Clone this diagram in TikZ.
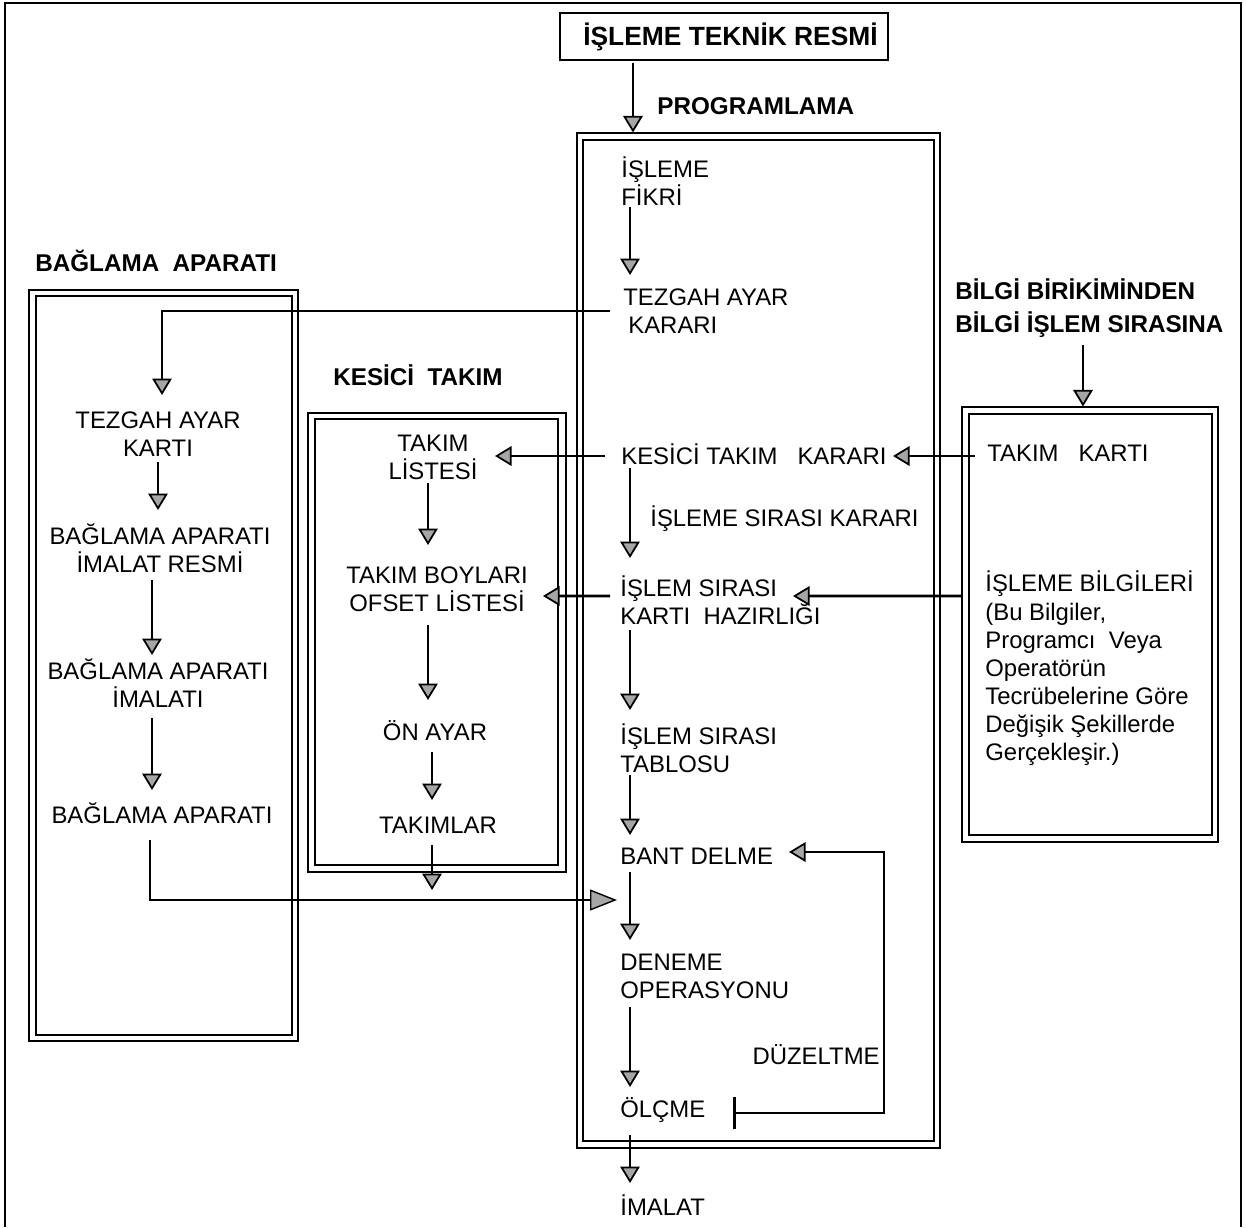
\documentclass[tikz,border=0pt]{standalone}
\usepackage{fontspec}
\setmainfont{Liberation Sans}
\usetikzlibrary{arrows.meta,fit}
\begin{document}
\begin{tikzpicture}[x=0.2mm,y=-0.2mm,
  txt/.style={inner sep=0pt,font=\fontsize{13.6}{16}\selectfont,align=left},
  ctxt/.style={inner sep=0pt,font=\fontsize{13.6}{16}\selectfont,align=center},
  hd/.style={inner sep=0pt,font=\fontsize{13.8}{18.7}\selectfont\bfseries,align=left},
  outerbox/.style={draw,line width=0.6pt,inner sep=0pt},
  innerbox/.style={draw,line width=1.1pt},
  arr/.style={line width=1.6pt,-{Triangle[length=3.3mm,width=3.9mm,fill=gray!70,line width=1pt]}},
  thinarr/.style={line width=0.8pt,-{Triangle[length=5.4mm,width=4.2mm,fill=gray!70,line width=0.8pt]}},
  fbarr/.style={line width=1.6pt,{Bar[width=6.4mm]}-{Triangle[length=3.3mm,width=3.9mm,fill=gray!70,line width=1pt]}}
]
\useasboundingbox (0,0) rectangle (1246,1227);
% outer frame
\draw[line width=0.9pt] (5,1227) -- (5,3) -- (1241,3) -- (1241,1227);

% boxes
\node[outerbox,fit={(577,133) (940,1148)}] (progbox) {};
\draw[innerbox] (583,140) rectangle (934,1141);
\node[outerbox,fit={(29,290) (298,1041)}] (bagbox) {};
\draw[innerbox] (36,296) rectangle (292,1035);
\node[outerbox,fit={(308,413) (566,872)}] (kesbox) {};
\draw[innerbox] (315,419) rectangle (558,865);
\node[outerbox,fit={(962,407) (1218,842)}] (bilgibox) {};
\draw[innerbox] (969,414) rectangle (1212,835);

% title
\node[draw,line width=0.9pt,minimum width=65.6mm,minimum height=9.4mm,inner sep=0pt,
      font=\fontsize{15}{17}\selectfont\bfseries] (title) at (724,36.5) {\hspace{2.6mm}İŞLEME TEKNİK RESMİ};

% headings
\node[hd,anchor=west] (proghead) at (657,106) {PROGRAMLAMA};
\node[hd,anchor=west] (baghead) at (35,261) {BAĞLAMA\ \ APARATI};
\node[hd,anchor=west] (keshead) at (333,375) {KESİCİ\ \ TAKIM};
\node[hd,anchor=west,font=\fontsize{13.8}{18.7pt}\selectfont\bfseries] (bilgihead) at (955,308.5) {BİLGİ BİRİKİMİNDEN\\BİLGİ İŞLEM SIRASINA};

% programming column
\node[txt,anchor=west] (fikri) at (621,181.5) {İŞLEME\\FİKRİ};
\node[txt,anchor=west] (tezkarar) at (623,311) {TEZGAH AYAR\\\hspace{1mm}KARARI};
\node[txt,anchor=west] (keskarar) at (621,454) {KESİCİ TAKIM\ \ \ KARARI};
\node[txt,anchor=west] (sirakarar) at (650,519) {İŞLEME SIRASI KARARI};
\node[txt,anchor=west] (kartihaz) at (620,600) {İŞLEM SIRASI\\KARTI\ \ HAZIRLIĞI};
\node[txt,anchor=west] (tablosu) at (620,748) {İŞLEM SIRASI\\TABLOSU};
\node[txt,anchor=west] (bant) at (620,856) {BANT DELME};
\node[txt,anchor=west] (deneme) at (620,976) {DENEME\\OPERASYONU};
\node[txt,anchor=west] (olcme) at (620,1110) {ÖLÇME};
\node[txt,anchor=west] (imalat) at (620,1205) {İMALAT};
\node[txt,anchor=east] (duzeltme) at (880,1055) {DÜZELTME};

% left column
\node[ctxt] (tezkart) at (158,434) {TEZGAH AYAR\\KARTI};
\node[ctxt] (bagres) at (160,548) {BAĞLAMA APARATI\\İMALAT RESMİ};
\node[ctxt] (bagim) at (158,683.5) {BAĞLAMA APARATI\\İMALATI};
\node[ctxt] (bagap) at (162,813) {BAĞLAMA APARATI};

% middle column
\node[ctxt] (takimlist) at (433,457.5) {TAKIM\\LİSTESİ};
\node[ctxt] (ofset) at (437,589.5) {TAKIM BOYLARI\\OFSET LİSTESİ};
\node[ctxt] (onayar) at (435,731) {ÖN AYAR};
\node[ctxt] (takimlar) at (438,825) {TAKIMLAR};

% right column
\node[txt,anchor=west] (takimkart) at (987,453) {TAKIM\ \ \ KARTI};
\node[txt,anchor=west] (bilgiler) at (985,668.5) {İŞLEME BİLGİLERİ\\(Bu Bilgiler,\\Programcı\ \ Veya\\Operatörün\\Tecrübelerine Göre\\Değişik Şekillerde\\Gerçekleşir.)};

% free-end coordinates
\coordinate (join) at ([shift={(-3,44)}]bant.west);
\coordinate (tkend) at ([shift={(-6,65)}]takimlar.center);

% connectors
\draw[arr] ([shift={(-91,2)}]title.south) -- ([shift={(-125.5,0)}]progbox.north);
\draw[arr] ([shift={(9,25.5)}]fikri.west) -- ([shift={(7,-36)}]tezkarar.west);
\draw[arr] ([shift={(-13,0)}]tezkarar.west) -| ([shift={(4,-39)}]tezkart.center);
\draw[arr] ([shift={(-16,2)}]keskarar.west) -- ([shift={(62,-1.5)}]takimlist.center);
\draw[arr] ([shift={(-12,3)}]takimkart.west) -- ([shift={(272,2)}]keskarar.west);
\draw[arr] ([shift={(9,14)}]keskarar.west) -- ([shift={(10,-42)}]kartihaz.west);
\draw[arr] ([shift={(0,-28.5)}]bilgibox.west) -- ([shift={(173,-4)}]kartihaz.west);
\draw[arr] ([shift={(-10,-4)}]kartihaz.west) -- ([shift={(106,6.5)}]ofset.center);
\draw[arr] ([shift={(10,30)}]kartihaz.west) -- ([shift={(10,-38)}]tablosu.west);
\draw[arr] ([shift={(10,27)}]tablosu.west) -- ([shift={(10,-21)}]bant.west);
\draw[arr] ([shift={(10,16)}]bant.west) -- ([shift={(10,-36)}]deneme.west);
\draw[arr] ([shift={(10,31)}]deneme.west) -- ([shift={(10,-23)}]olcme.west);
\draw[arr] ([shift={(10,25)}]olcme.west) -- ([shift={(10,-22)}]imalat.west);
\draw[fbarr] ([shift={(113,3)}]olcme.west) -- ++(151,0) |- ([shift={(169,-4)}]bant.west);

\draw[arr] ([shift={(0,28)}]tezkart.center) -- ([shift={(-2,-38)}]bagres.center);
\draw[arr] ([shift={(-8,32)}]bagres.center) -- ([shift={(-6,-28.5)}]bagim.center);
\draw[arr] ([shift={(-6,34.5)}]bagim.center) -- ([shift={(-10,-23)}]bagap.center);
\draw[thinarr] ([shift={(-12,27)}]bagap.center) |- (join);

\draw[arr] ([shift={(-5,25.5)}]takimlist.center) -- ([shift={(-9,-44.5)}]ofset.center);
\draw[arr] ([shift={(-9,35.5)}]ofset.center) -- ([shift={(-7,-31)}]onayar.center);
\draw[arr] ([shift={(-3,21)}]onayar.center) -- ([shift={(-6,-25)}]takimlar.center);
\draw[arr] ([shift={(-6,20)}]takimlar.center) -- (tkend);

\draw[arr] ([shift={(128,36.5)}]bilgihead.west) -- ([shift={(-7,0)}]bilgibox.north);
\end{tikzpicture}
\end{document}
